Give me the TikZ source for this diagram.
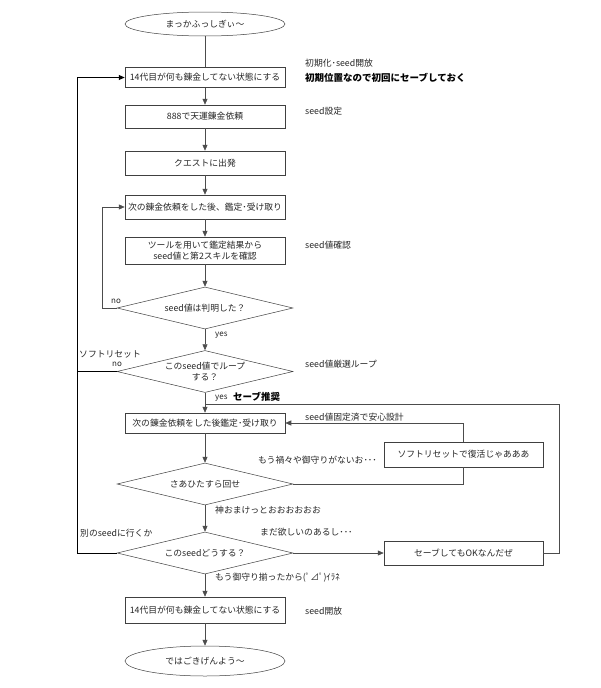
\documentclass[tikz,border=0pt]{standalone}
\usepackage{fontspec}
\setmainfont{Noto Sans CJK JP}
\usetikzlibrary{shapes.geometric,arrows.meta}
\begin{document}
\begin{tikzpicture}[x=1pt,y=-1pt,
 every node/.style={font=\fontsize{8.8}{11}\selectfont, text=black!85},
 box/.style={draw=black!75, line width=0.5pt, minimum width=160pt, minimum height=24pt, inner sep=1pt, align=center},
 term/.style={ellipse, draw=black!75, line width=0.5pt, minimum width=160pt, minimum height=24pt, inner sep=1pt},
 dec/.style={diamond, draw=black!75, line width=0.5pt, aspect=4, inner sep=0pt, minimum width=176pt, minimum height=42pt, align=center},
 conn/.style={draw=black!70, line width=0.6pt},
 arr/.style={conn, -{Triangle[length=6pt,width=5pt]}},
 loopline/.style={draw=black, line width=0.9pt, -{Triangle[length=6pt,width=5pt]}},
 lbl/.style={anchor=west, inner sep=0pt},
 boldlbl/.style={lbl, font=\fontsize{9.5}{11}\selectfont\bfseries, text=black},
]
\useasboundingbox[fill=white] (0,0) rectangle (600,688);

% main column
\node[term] (start) at (205,24) {まっかふっしぎぃ〜};
\node[box, minimum height=20pt] (b1) at (205,77.5) {14代目が何も錬金してない状態にする};
\node[box, minimum height=23pt] (b2) at (205,116.5) {888で天運錬金依頼};
\node[box] (b3) at (205,163) {クエストに出発};
\node[box] (b4) at (205,207) {次の錬金依頼をした後、鑑定･受け取り};
\node[box, minimum height=27pt] (b5) at (205,250.5) {ツールを用いて鑑定結果から\\seed値と第2スキルを確認};
\node[dec] (d1) at (205,308) {seed値は判明した？};
\node[dec] (d2) at (205,371.5) {このseed値でループ\\する？};
\node[box, minimum height=20pt] (b6) at (205,423) {次の錬金依頼をした後鑑定･受け取り};
\node[dec] (d3) at (205,484) {さあひたすら回せ};
\node[dec] (d4) at (205,553) {このseedどうする？};
\node[box, minimum height=26pt] (b9) at (205,610) {14代目が何も錬金してない状態にする};
\node[term, minimum height=30pt] (end) at (205,661) {ではごきげんよう〜};

% side boxes
\node[box, minimum width=159pt, minimum height=25pt] (b8) at (463.5,454.5) {ソフトリセットで復活じゃあああ};
\node[box, minimum width=159pt] (b7) at (463.5,553) {セーブしてもOKなんだぜ};

% coordinates
\coordinate (l1) at (102,308);
\coordinate (l2) at (77,553);
\coordinate (l3) at (77,371.5);
\coordinate (r1) at (559,553);
\coordinate (r2) at (559,404);
\coordinate (j) at (205,404);
\coordinate (s1) at (463.5,484);

% connectors
\draw[conn] (start) -- (b1);
\draw[arr] (b1) -- (b2);
\draw[arr] (b2) -- (b3);
\draw[arr] (b3) -- (b4);
\draw[arr] (b4) -- (b5);
\draw[arr] (b5) -- (d1);
\draw[arr] (d1) -- (d2);
\draw[arr] (d2) -- (b6);
\draw[arr] (b6) -- (d3);
\draw[arr] (d3) -- (d4);
\draw[arr] (d4) -- (b9);
\draw[arr] (b9) -- (end);
\draw[arr] (d1.west) -- (l1) |- (b4.west);
\draw[loopline] (d4.west) -- (l2) |- (b1.west);
\draw[draw=black, line width=0.9pt] (d2.west) -- (l3);
\draw[arr] (d4.east) -- (b7.west);
\draw[conn] (b7.east) -- (r1) -- (r2) -- (j);
\draw[conn] (d3.east) -- (s1) -- (b8.south);
\draw[arr] (b8.north) |- (b6.east);

% labels
\node[lbl] (t1) at (305,63) {初期化･seed開放};
\node[boldlbl] (t2) at (305,78) {初期位置なので初回にセーブしておく};
\node[lbl] (t3) at (305,111) {seed設定};
\node[lbl] (t4) at (305,245) {seed値確認};
\node[lbl] (t5) at (305,364) {seed値厳選ループ};
\node[lbl, font=\fontsize{8}{10}\selectfont] (n1) at (111,301) {no};
\node[lbl, font=\fontsize{8}{10}\selectfont] (n2) at (112,364) {no};
\node[lbl] (sr) at (79,354) {ソフトリセット};
\node[lbl, font=\fontsize{8}{10}\selectfont] (y1) at (215,335) {yes};
\node[lbl, font=\fontsize{8}{10}\selectfont] (y2) at (215,398) {yes};
\node[boldlbl] (sv) at (233,397) {セーブ推奨};
\node[lbl] (t6) at (305,417) {seed値固定済で安心設計};
\node[lbl] (t7) at (258,460) {もう禍々や御守りがないお･･･};
\node[lbl] (t8) at (215,510) {神おまけっとおおおおおお};
\node[lbl] (t9) at (260,532) {まだ欲しいのあるし･･･};
\node[lbl] (t10) at (80,533) {別のseedに行くか};
\node[lbl] (t11) at (215,578) {もう御守り揃ったから(ﾟ⊿ﾟ)ｲﾗﾈ};
\node[lbl] (t12) at (305,611) {seed開放};
\end{tikzpicture}
\end{document}
